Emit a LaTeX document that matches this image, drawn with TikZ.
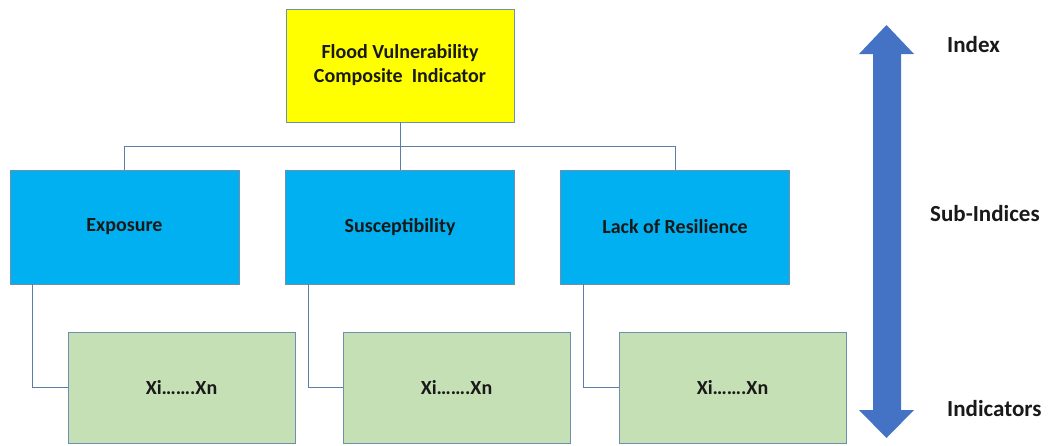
\documentclass[tikz,border=0pt]{standalone}
\usepackage{fontspec}
\setmainfont{Carlito}
\begin{document}
\begin{tikzpicture}[x=1pt,y=-1pt,
  box/.style={draw=bordercol, line width=0.8pt, rectangle, inner sep=0pt, font=\fontsize{20}{24}\selectfont\bfseries, text=black!90},
  link/.style={draw=linecol, line width=0.9pt},
  lbl/.style={font=\fontsize{23}{27}\selectfont\bfseries, text=black!90, anchor=west, inner sep=0pt}]
\definecolor{bordercol}{HTML}{6F8FAF}
\definecolor{linecol}{HTML}{5A7EA6}
\definecolor{yel}{HTML}{FFFF00}
\definecolor{blu}{HTML}{00B0F0}
\definecolor{grn}{HTML}{C5E0B4}
\definecolor{arr}{HTML}{4472C4}
\useasboundingbox (0,0) rectangle (1049,445);
\node[box, fill=yel, minimum width=228, minimum height=113, align=center] (top) at (400,65.5) {Flood Vulnerability\\Composite\ \ Indicator};
\node[box, fill=blu, minimum width=229, minimum height=114] (e) at (124.5,227) {Exposure};
\node[box, fill=blu, minimum width=229, minimum height=114] (s) at (400,227) {Susceptibility};
\node[box, fill=blu, minimum width=229, minimum height=114] (r) at (675,227) {Lack of Resilience};
\node[box, fill=grn, minimum width=227, minimum height=111] (ge) at (181.5,387.5) {Xi…….Xn};
\node[box, fill=grn, minimum width=227, minimum height=111] (gs) at (456.5,387.5) {Xi…….Xn};
\node[box, fill=grn, minimum width=227, minimum height=111] (gr) at (732.5,387.5) {Xi…….Xn};
\draw[link] (top.south) -- ++(0,24) coordinate (j);
\draw[link] (e.north) |- (j) -| (r.north);
\draw[link] (j) -- (s.north);
\draw[link] ([xshift=23pt]e.south west) |- (ge.west);
\draw[link] ([xshift=23pt]s.south west) |- (gs.west);
\draw[link] ([xshift=23pt]r.south west) |- (gr.west);
\fill[arr] (886.5,25) -- (914,54) -- (901,54) -- (901,410) -- (914,410) -- (886.5,438) -- (859,410) -- (873,410) -- (873,54) -- (859,54) -- cycle;
\node[lbl] (l1) at (947,45) {Index};
\node[lbl] (l2) at (930,214) {Sub-Indices};
\node[lbl] (l3) at (947,409) {Indicators};
\end{tikzpicture}
\end{document}
